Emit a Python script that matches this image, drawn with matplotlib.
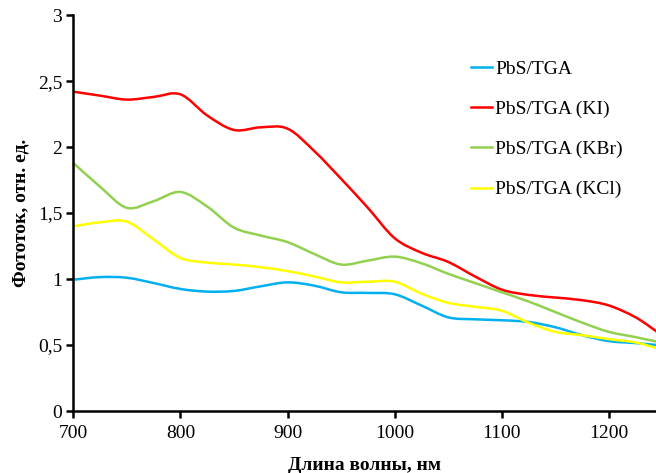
import numpy as np
import matplotlib
matplotlib.use('Agg')
import matplotlib.pyplot as plt
from matplotlib.path import Path
from matplotlib.patches import PathPatch
from matplotlib.lines import Line2D

plt.rcParams['font.family'] = ['Liberation Serif', 'DejaVu Serif']

# wavelengths, nm
wl = [700, 725, 750, 775, 800, 825, 850, 875, 900, 925, 950, 975, 1000,
      1025, 1050, 1075, 1100, 1125, 1150, 1175, 1200, 1225, 1245]

# photocurrent, rel. units
pbs_tga = [0.995, 1.015, 1.01, 0.97, 0.925, 0.905, 0.91, 0.945, 0.975, 0.95, 0.90,
           0.895, 0.885, 0.80, 0.71, 0.695, 0.688, 0.675, 0.635, 0.575, 0.53, 0.515, 0.50]
pbs_ki = [2.42, 2.39, 2.36, 2.38, 2.40, 2.24, 2.13, 2.15, 2.14, 1.97, 1.76,
          1.54, 1.31, 1.20, 1.13, 1.02, 0.92, 0.88, 0.86, 0.84, 0.80, 0.71, 0.60]
pbs_kbr = [1.88, 1.70, 1.54, 1.59, 1.66, 1.55, 1.39, 1.33, 1.28, 1.19, 1.11,
           1.14, 1.17, 1.12, 1.04, 0.97, 0.90, 0.83, 0.75, 0.67, 0.60, 0.56, 0.525]
pbs_kcl = [1.40, 1.43, 1.435, 1.30, 1.16, 1.125, 1.11, 1.09, 1.06, 1.02, 0.975,
           0.98, 0.98, 0.89, 0.82, 0.79, 0.76, 0.67, 0.60, 0.575, 0.545, 0.52, 0.475]

labels = ['PbS/TGA', 'PbS/TGA (KI)', 'PbS/TGA (KBr)', 'PbS/TGA (KCl)']
colors = ['#00b0f0', '#ff0000', '#92d050', '#ffff00']


def smooth_path(x, y):
    # excel-like smoothed line: catmull-rom segments as cubic beziers
    x = np.asarray(x, float)
    y = np.asarray(y, float)
    verts = [(x[0], y[0])]
    codes = [Path.MOVETO]
    n = len(x)
    for i in range(n - 1):
        i0 = max(i - 1, 0)
        i3 = min(i + 2, n - 1)
        c1 = (x[i] + (x[i + 1] - x[i0]) / 6, y[i] + (y[i + 1] - y[i0]) / 6)
        c2 = (x[i + 1] - (x[i3] - x[i]) / 6, y[i + 1] - (y[i3] - y[i]) / 6)
        verts += [c1, c2, (x[i + 1], y[i + 1])]
        codes += [Path.CURVE4] * 3
    return Path(verts, codes)


fig = plt.figure(figsize=(6.56, 4.73), dpi=100)
ax = fig.add_axes([0.1117, 0.131, 0.8883, 0.837])

handles = []
for ys, lab, c in zip([pbs_tga, pbs_ki, pbs_kbr, pbs_kcl], labels, colors):
    ax.add_patch(PathPatch(smooth_path(wl, ys), facecolor='none', edgecolor=c,
                           lw=1.8, clip_on=False))
    handles.append(Line2D([], [], color=c, lw=1.8, label=lab))

ax.set_xlim(700, 1244)
ax.set_ylim(0, 3)
ax.set_xticks([700, 800, 900, 1000, 1100, 1200])
ax.set_yticks([0, 0.5, 1, 1.5, 2, 2.5, 3])
ax.set_yticklabels(['0', '0,5', '1', '1,5', '2', '2,5', '3'])

for s in ['top', 'right']:
    ax.spines[s].set_visible(False)
for s in ['left', 'bottom']:
    ax.spines[s].set_linewidth(1.8)
ax.tick_params(direction='out', length=5, width=1.8, labelsize=14, pad=3)
ax.tick_params(axis='x', pad=5)

ax.set_xlabel('Длина волны, нм', fontsize=14, fontweight='bold', labelpad=11)
ax.set_ylabel('Фототок, отн. ед.', fontsize=14, fontweight='bold', labelpad=6)

ax.legend(handles=handles, loc='upper left', bbox_to_anchor=(0.682, 0.885),
          frameon=False, fontsize=14, handlelength=1.1, handletextpad=0.15,
          labelspacing=1.15, borderpad=0, borderaxespad=0)

fig.savefig('out.png', dpi=100)
